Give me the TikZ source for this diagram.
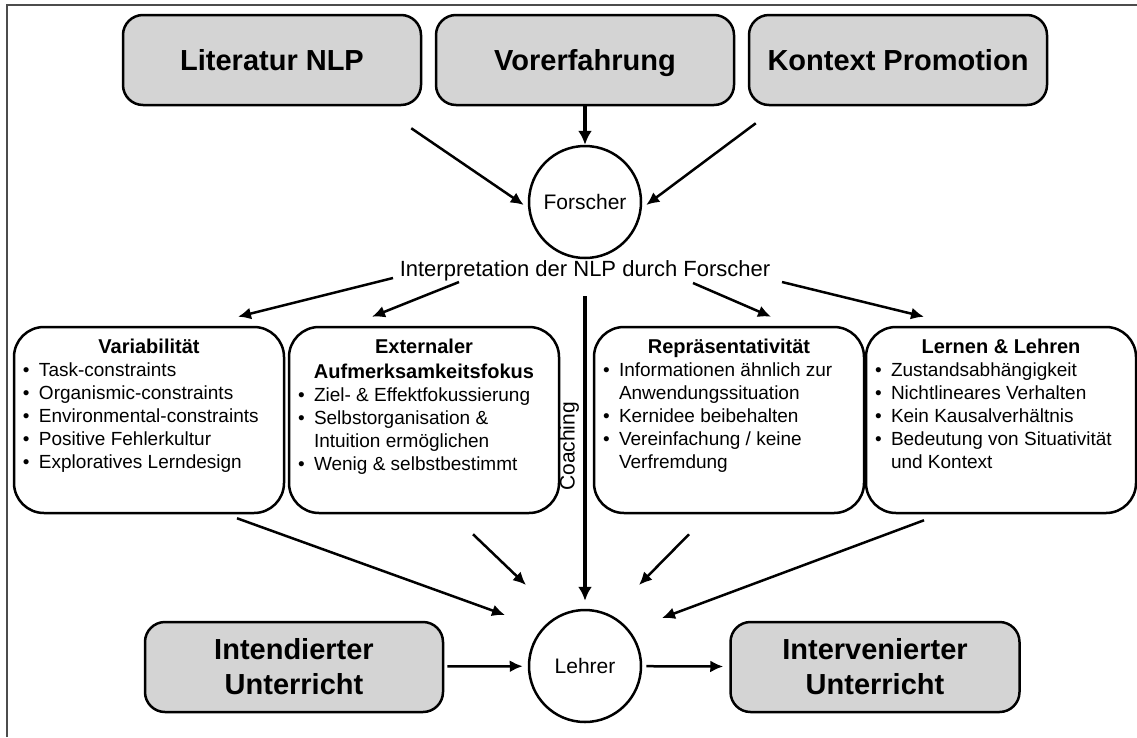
\documentclass[tikz,border=0pt]{standalone}
\usepackage{fontspec}
\setmainfont{Liberation Sans}
\usetikzlibrary{arrows.meta}

\newcommand{\bul}[1]{\par\noindent\hangindent=16pt\hangafter=1\makebox[16pt][l]{\textbullet}#1}
\newcommand{\boxtext}[2]{\parbox[c][186pt][t]{252pt}{\vspace*{12pt}%
  {\centering\fontsize{20}{25}\selectfont\bfseries #1\par}%
  \fontsize{19}{23}\selectfont\raggedright #2}}

\begin{document}
\begin{tikzpicture}[x=1pt,y=-1pt,
    arr/.style={line width=2.5pt,-{Latex[length=13pt,width=12pt]}},
    thickarr/.style={line width=4pt,-{Latex[length=14pt,width=14pt]}}]

      \useasboundingbox (0,0) rectangle (1137,737);
      \draw[line width=2.5pt,black!70] (7,737) -- (7,5) -- (1137,5);

      \begin{scope}[every node/.style={draw,rounded corners=20pt,fill=black!17,line width=2.5pt,
          minimum width=298pt,minimum height=90pt,align=center,
          font=\fontsize{29}{35}\selectfont\bfseries}]
        \begin{scope}[every node/.append style={text height=24pt,text depth=4pt}]
          \node (lit) at (272,60)  {Literatur NLP};
          \node (vor) at (585,60)  {Vorerfahrung};
          \node (kon) at (898,60)  {Kontext Promotion};
        \end{scope}
        \node (int) at (294,667) {Intendierter\\Unterricht};
        \node[minimum width=289pt] (inv) at (875,667) {Intervenierter\\Unterricht};
      \end{scope}

      \begin{scope}[every node/.style={draw,circle,line width=2.5pt,minimum size=112pt,
          inner sep=0pt,font=\fontsize{21}{25}\selectfont}]
        \node (forscher) at (585,202) {Forscher};
        \node (lehrer)   at (585,666) {Lehrer};
      \end{scope}

      \node[anchor=base,font=\fontsize{22}{26}\selectfont] (interp) at (585,276)
        {Interpretation der NLP durch Forscher};

      \begin{scope}[every node/.style={draw,rounded corners=30pt,line width=2.5pt,
          inner xsep=9pt,inner ysep=0pt}]
        \node (var) at (149,420) {\boxtext{Variabilität}{%
            \bul{Task-constraints}
            \bul{Organismic-constraints}
            \bul{Environmental-constraints}
            \bul{Positive Fehlerkultur}
            \bul{Exploratives Lerndesign}}};
        \node (ext) at (424,420) {\boxtext{Externaler\\Aufmerksamkeitsfokus}{%
            \bul{Ziel- \& Effektfokussierung}
            \bul{Selbstorganisation \&\newline Intuition ermöglichen}
            \bul{Wenig \& selbstbestimmt}}};
        \node (rep) at (729,420) {\boxtext{Repräsentativität}{%
            \bul{Informationen ähnlich zur\newline Anwendungssituation}
            \bul{Kernidee beibehalten}
            \bul{Vereinfachung / keine\newline Verfremdung}}};
        \node (lern) at (1001,420) {\boxtext{Lernen \& Lehren}{%
            \bul{Zustandsabhängigkeit}
            \bul{Nichtlineares Verhalten}
            \bul{Kein Kausalverhältnis}
            \bul{Bedeutung von Situativität\newline und Kontext}}};
      \end{scope}

      \begin{scope}[every edge/.style={draw,arr}]
        \path ([shift={(-11,22)}]lit.south east) edge ([shift={(-4,3)}]forscher.west);
        \path ([shift={(8,17)}]kon.south west)   edge ([shift={(4,3)}]forscher.east);
        \path (vor) edge[thickarr] (forscher);

        \path ([shift={(-192,2)}]interp.base) edge ([shift={(89,-9)}]var.north);
        \path ([shift={(-126,6)}]interp.base) edge ([shift={(-52,-9)}]ext.north);
        \path ([shift={(108,7)}]interp.base)  edge ([shift={(42,-9)}]rep.north);
        \path ([shift={(197,6)}]interp.base)  edge ([shift={(-77,-9)}]lern.north);

        \path (interp.south) edge[thickarr,shorten <=12pt,shorten >=8pt]
          node[rotate=90,anchor=south,inner sep=4pt,font=\fontsize{21}{25}\selectfont,name=coach] {Coaching}
          (lehrer.north);

        \path ([shift={(88,4)}]var.south)    edge ([shift={(-80,-51)}]lehrer.center);
        \path ([shift={(49,20)}]ext.south)   edge ([shift={(-59,-81)}]lehrer.center);
        \path ([shift={(-40,20)}]rep.south)  edge ([shift={(54,-81)}]lehrer.center);
        \path ([shift={(-77,6)}]lern.south)  edge ([shift={(77,-48)}]lehrer.center);

        \path (int) edge[shorten <=3pt,shorten >=5pt] (lehrer);
        \path (lehrer) edge[shorten <=4pt,shorten >=6pt] (inv);
      \end{scope}

    \end{tikzpicture}
\end{document}
